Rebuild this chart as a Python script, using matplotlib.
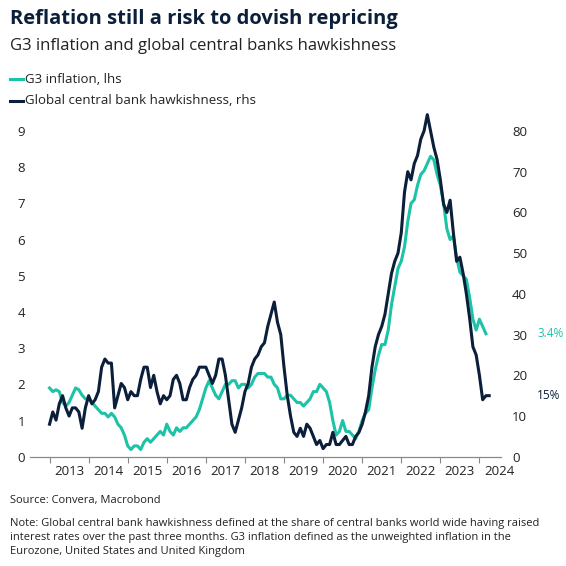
import numpy as np
import matplotlib
matplotlib.use("Agg")
import matplotlib.pyplot as plt

plt.rcParams['font.family'] = ['Open Sans', 'DejaVu Sans']

teal = "#1cc3a6"
navy = "#0b1e3a"

years = list(range(2013, 2025))
inflation = [1.9, 1.8, 1.85, 1.8, 1.5, 1.4, 1.5, 1.7, 1.9, 1.85, 1.7, 1.6,
             1.6, 1.5, 1.4, 1.3, 1.2, 1.2, 1.1, 1.2, 1.1, 0.9, 0.8, 0.6,
             0.3, 0.2, 0.3, 0.3, 0.2, 0.4, 0.5, 0.4, 0.5, 0.6, 0.7, 0.6,
             0.9, 0.7, 0.6, 0.8, 0.7, 0.8, 0.8, 0.9, 1.0, 1.1, 1.3, 1.6,
             1.9, 2.1, 1.9, 1.7, 1.6, 1.8, 2.0, 2.0, 2.1, 2.1, 1.9, 2.0,
             2.0, 1.9, 2.0, 2.2, 2.3, 2.3, 2.3, 2.2, 2.2, 2.0, 1.9, 1.6,
             1.6, 1.7, 1.7, 1.6, 1.5, 1.5, 1.4, 1.5, 1.6, 1.8, 1.8, 2.0,
             1.9, 1.8, 1.5, 1.0, 0.6, 0.7, 1.0, 0.7, 0.7, 0.6, 0.5, 0.7,
             1.0, 1.2, 1.3, 1.9, 2.4, 2.8, 3.1, 3.1, 3.5, 4.2, 4.7, 5.2,
             5.4, 5.8, 6.5, 7.0, 7.1, 7.5, 7.8, 7.9, 8.1, 8.3, 8.2, 7.8,
             7.5, 7.0, 6.3, 6.0, 6.1, 5.5, 5.1, 5.0, 4.9, 4.4, 3.8, 3.5,
             3.8, 3.6, 3.4]
hawkish = [8, 11, 9, 13, 15, 12, 10, 12, 12, 11, 7, 12,
           15, 13, 14, 16, 22, 24, 23, 23, 12, 15, 18, 17,
           14, 16, 15, 15, 19, 22, 22, 17, 20, 16, 13, 15,
           14, 15, 19, 20, 18, 14, 14, 17, 19, 20, 22, 22,
           22, 20, 18, 20, 24, 24, 20, 14, 8, 6, 9, 12,
           16, 18, 22, 24, 25, 27, 28, 32, 35, 38, 33, 30,
           22, 15, 10, 6, 5, 7, 5, 8, 7, 5, 3, 4,
           2, 3, 3, 6, 3, 3, 4, 5, 3, 3, 5, 6,
           8, 11, 15, 22, 27, 30, 32, 35, 40, 45, 48, 50,
           55, 65, 70, 68, 72, 74, 78, 80, 84, 80, 76, 73,
           68, 62, 60, 63, 55, 48, 49, 45, 40, 34, 27, 25,
           20, 14, 15, 15]

t_inf = 2013.0 + np.arange(len(inflation)) / 12
t_hawk = 2013.0 + np.arange(len(hawkish)) / 12

fig = plt.figure(figsize=(5.66, 5.66), dpi=100)
ax = fig.add_axes([0.053, 0.193, 0.832, 0.614])
ax2 = ax.twinx()

ax.plot(t_inf, inflation, color=teal, lw=2.2)
ax2.plot(t_hawk, hawkish, color=navy, lw=2.2)

ax.set_ylim(0, 9.6)
ax2.set_ylim(0, 9.6 * 80 / 9)
ax.set_yticks(range(0, 10))
ax2.set_yticks(range(0, 81, 10))
ax.set_xlim(2012.5, 2024.55)
ax.set_xticks(years)
ax.set_xticklabels([])
ax.set_xticks([y + 0.5 for y in years], minor=True)
ax.set_xticklabels([str(y) for y in years], minor=True)
ax.tick_params(axis='x', which='minor', length=0, labelsize=9.5, colors='#222222', pad=6)
ax.tick_params(axis='x', which='major', length=4, color='#888888')
ax.tick_params(axis='y', length=0, labelsize=9.5, colors='#222222')
ax2.tick_params(axis='y', length=0, labelsize=9.5, colors='#222222', pad=8)
for a in (ax, ax2):
    for s in ['top', 'right', 'left']:
        a.spines[s].set_visible(False)
    a.spines['bottom'].set_color('#888888')

ax2.annotate("3.4%", xy=(1.0, inflation[-1] * 80 / 9), xycoords=('axes fraction', 'data'),
             xytext=(26, 0), textcoords='offset points', color=teal, fontsize=8.5, va='center')
ax2.annotate("15%", xy=(1.0, hawkish[-1]), xycoords=('axes fraction', 'data'),
             xytext=(26, 0), textcoords='offset points', color=navy, fontsize=8.5, va='center')

fig.text(0.018, 0.958, "Reflation still a risk to dovish repricing", fontsize=14.5,
         fontweight='bold', color=navy)
fig.text(0.018, 0.912, "G3 inflation and global central banks hawkishness", fontsize=12,
         color='#222222')
fig.lines.append(plt.Line2D([0.018, 0.04], [0.860, 0.860], color=teal, lw=2.2, transform=fig.transFigure))
fig.text(0.045, 0.860, "G3 inflation, lhs", fontsize=9.5, va='center', color='#222222')
fig.lines.append(plt.Line2D([0.018, 0.04], [0.822, 0.822], color=navy, lw=2.2, transform=fig.transFigure))
fig.text(0.045, 0.822, "Global central bank hawkishness, rhs", fontsize=9.5, va='center', color='#222222')

fig.text(0.018, 0.112, "Source: Convera, Macrobond", fontsize=8, color='#222222')
fig.text(0.018, 0.022, "Note: Global central bank hawkishness defined at the share of central banks world wide having raised\n"
         "interest rates over the past three months. G3 inflation defined as the unweighted inflation in the\n"
         "Eurozone, United States and United Kingdom", fontsize=8, color='#222222', linespacing=1.35)

fig.savefig("out.png", dpi=100)
